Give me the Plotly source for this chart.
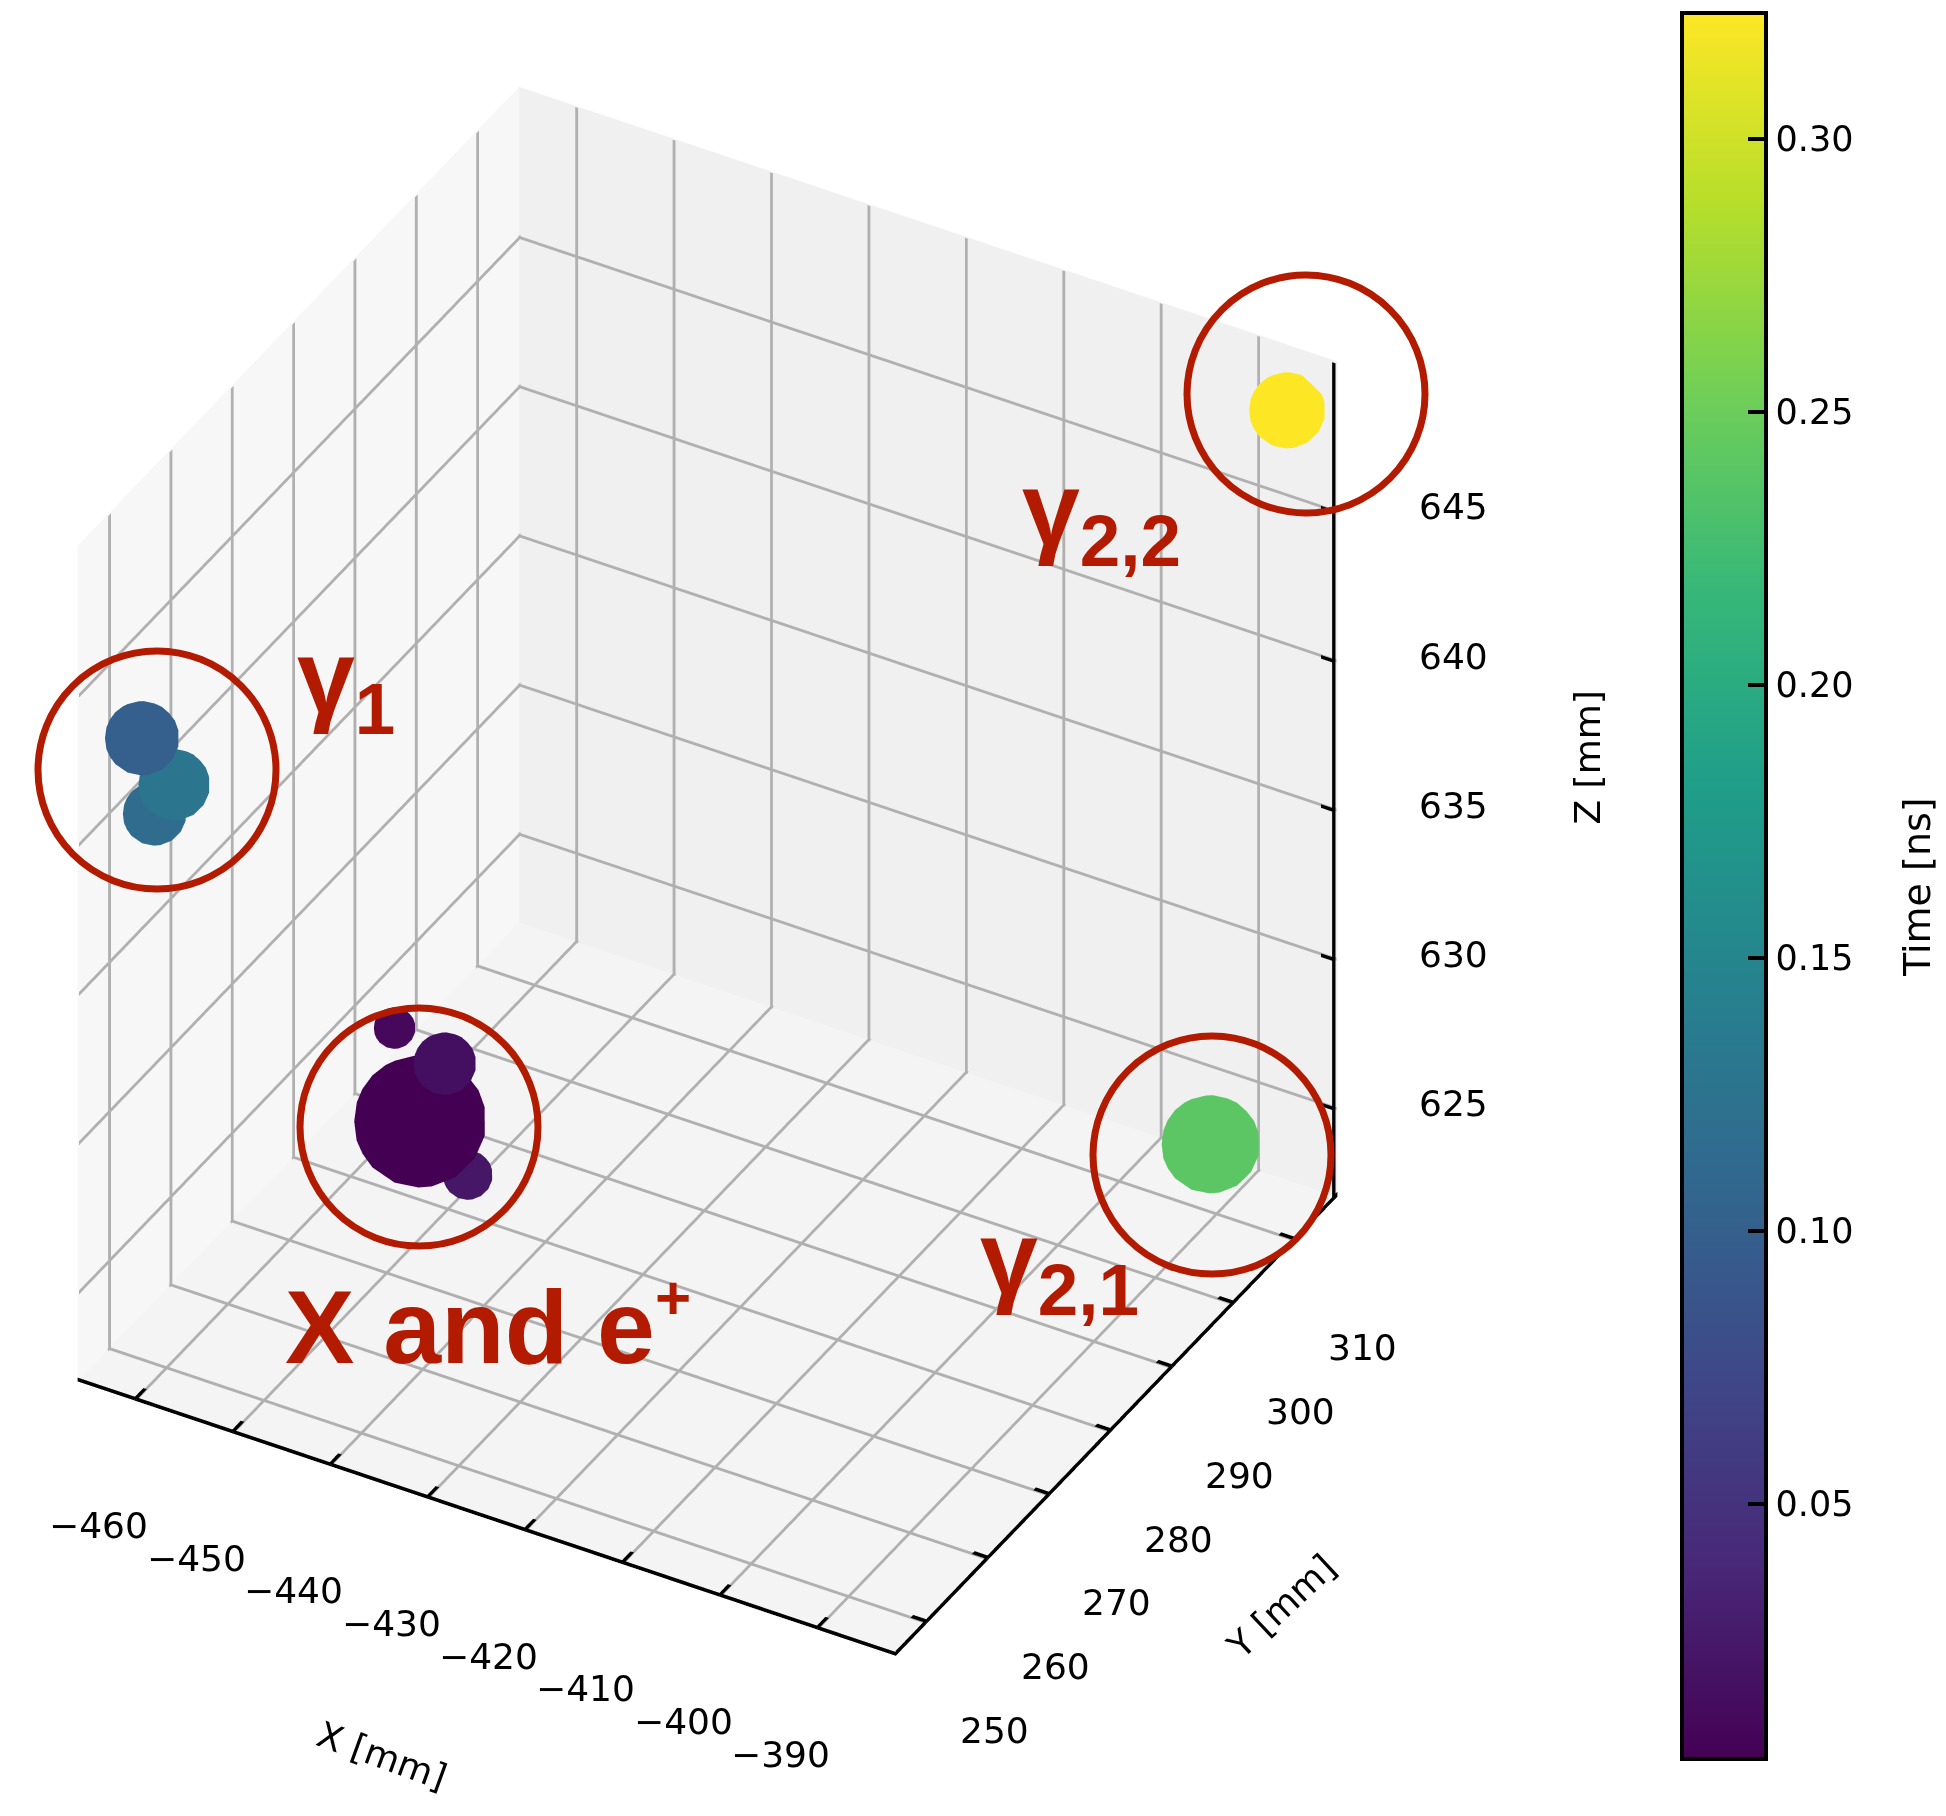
import numpy as np
import plotly.graph_objects as go

# Hit positions [mm], hit times [ns] and deposited energy (arb. units)
hit_x = [-448.0, -448.3, -450.5, -446.0, -443.0, -462.3, -459.0, -461.0, -392.0, -386.0]
hit_y = [272.0, 272.4, 272.0, 273.0, 272.0, 249.5, 249.5, 249.5, 312.0, 315.0]
hit_z = [627.0, 626.9, 629.8, 628.9, 625.7, 643.05, 641.85, 640.65, 623.8, 648.4]
hit_t = [0.0033, 0.008, 0.010, 0.016, 0.022, 0.099, 0.128, 0.115, 0.240, 0.323]
hit_e = [177.0, 121.0, 17.6, 39.7, 25.0, 56.0, 52.0, 41.0, 98.0, 59.0]

x_ticks = [-460, -450, -440, -430, -420, -410, -400, -390]
y_ticks = [250, 260, 270, 280, 290, 300, 310]
z_ticks = [625, 630, 635, 640, 645]
t_ticks = [0.05, 0.10, 0.15, 0.20, 0.25, 0.30]

X0, X1 = -466.0, -382.0
Y0, Y1 = 245.0, 317.0
Z0, Z1 = 622.0, 650.0

W, H = 1946, 1816
RED = "#b31b00"
GRID = "#b0b0b0"
LBL = dict(family="DejaVu Sans", size=36, color="black")

# small inward offsets keep strokes from fighting with the pane fills
ex, ey, ez = 0.15, 0.15, 0.05


class Strokes:
    """Thin flat quads used as thick lines inside the 3D box."""

    def __init__(self):
        self.v, self.f = [], []

    def add(self, a, b, w, centred=True):
        a, b, w = np.asarray(a, float), np.asarray(b, float), np.asarray(w, float)
        if centred:
            a, b = a - w / 2, b - w / 2
        n = len(self.v)
        self.v += [a, b, b + w, a + w]
        self.f += [(n, n + 1, n + 2), (n, n + 2, n + 3)]

    def trace(self, color):
        v = np.array(self.v)
        f = np.array(self.f)
        return go.Mesh3d(x=v[:, 0], y=v[:, 1], z=v[:, 2],
                         i=f[:, 0], j=f[:, 1], k=f[:, 2],
                         color=color, flatshading=True, opacity=1,
                         lighting=dict(ambient=1.0, diffuse=0.0, specular=0.0,
                                       roughness=1.0, fresnel=0.0),
                         hoverinfo="skip", showscale=False)


# grid on the three back panes: floor (z=Z0), back wall (y=Y1), side wall (x=X0)
grid = Strokes()
for xv in x_ticks:
    grid.add((xv, Y0, Z0 + ez), (xv, Y1, Z0 + ez), (0.30, 0, 0))
    grid.add((xv, Y1 - ey, Z0), (xv, Y1 - ey, Z1), (0.29, 0, 0))
for yv in y_ticks:
    grid.add((X0, yv, Z0 + ez), (X1, yv, Z0 + ez), (0, 0.36, 0))
    grid.add((X0 + ex, yv, Z0), (X0 + ex, yv, Z1), (0, 0.46, 0))
for zv in z_ticks:
    grid.add((X0, Y1 - ey, zv), (X1, Y1 - ey, zv), (0, 0, 0.10))
    grid.add((X0 + ex, Y0, zv), (X0 + ex, Y1, zv), (0, 0, 0.135))

# axis spines and inward tick marks
spine = Strokes()
spine.add((X0, Y0 + 0.02, Z0), (X1, Y0 + 0.02, Z0), (0, 0, 0.13), centred=False)
spine.add((X1 - 0.02, Y0, Z0), (X1 - 0.02, Y1, Z0), (0, 0, 0.17), centred=False)
spine.add((X1, Y1 - 2 * ey, Z0), (X1, Y1 - 2 * ey, Z1), (-0.36, 0, 0), centred=False)
for xv in x_ticks:
    spine.add((xv, Y0, Z0 + 2 * ez), (xv, Y0 + 1.5, Z0 + 2 * ez), (0.36, 0, 0))
for yv in y_ticks:
    spine.add((X1 - 1.5, yv, Z0 + 2 * ez), (X1, yv, Z0 + 2 * ez), (0, 0.44, 0))
for zv in z_ticks:
    spine.add((X1 - 1.5, Y1 - 2 * ey, zv), (X1, Y1 - 2 * ey, zv), (0, 0, 0.12))

fig = go.Figure()
fig.add_trace(grid.trace(GRID))
fig.add_trace(spine.trace("black"))

fig.add_trace(go.Scatter3d(
    x=hit_x, y=hit_y, z=hit_z, mode="markers",
    marker=dict(
        size=[11.5 * np.sqrt(e) for e in hit_e],
        color=hit_t, colorscale="Viridis",
        cmin=min(hit_t), cmax=max(hit_t), opacity=1,
        line=dict(width=0),
        colorbar=dict(
            x=1672 / W, xanchor="left", y=1 - 886 / H, yanchor="middle",
            len=1766 / H, lenmode="fraction", thickness=84,
            outlinewidth=4, outlinecolor="black",
            ticks="inside", ticklen=20, tickwidth=4, tickcolor="black",
            tickvals=t_ticks, tickformat=".2f",
            tickfont=dict(family="DejaVu Sans", size=35, color="black"),
        ),
    ),
    hoverinfo="skip", showlegend=False,
))


def axis(rng, bg):
    return dict(
        title=dict(text=""), range=rng, autorange=False,
        showbackground=True, backgroundcolor=bg,
        showgrid=False, showline=False, zeroline=False,
        ticks="", showticklabels=False, showspikes=False,
    )


# tick labels and axis titles, anchored at data positions on the spines
xa, ya = X1 - 0.01, Y1 - 0.01
scene_ann = []
for xv in x_ticks:
    scene_ann.append(dict(x=xv, y=Y0, z=Z0, text=f"\u2212{abs(xv)}", xshift=-37, yshift=-124))
for yv in y_ticks:
    scene_ann.append(dict(x=xa, y=yv, z=Z0, text=str(yv), xshift=68, yshift=-106))
for zv in z_ticks:
    scene_ann.append(dict(x=xa, y=ya, z=zv, text=str(zv), xshift=116, yshift=4))
scene_ann.append(dict(x=(X0 + X1) / 2, y=Y0, z=Z0, text="X [mm]", xshift=-105, yshift=-236, textangle=20))
scene_ann.append(dict(x=xa, y=(Y0 + Y1) / 2, z=Z0, text="Y [mm]", xshift=165, yshift=-180, textangle=-43))
scene_ann.append(dict(x=xa, y=ya, z=(Z0 + Z1) / 2, text="Z [mm]", xshift=250, yshift=22, textangle=-90))
for a in scene_ann:
    a.update(showarrow=False, font=LBL, xanchor="center", yanchor="middle")

D = 1.9
el, az = np.radians(36.2), np.radians(-60.4)
k = 1.08
fig.update_layout(
    width=W, height=H,
    margin=dict(l=0, r=0, t=0, b=0),
    paper_bgcolor="white",
    scene=dict(
        domain=dict(x=[0, 0.727], y=[0.04, 1]),
        xaxis=axis([X0, X1], "#f7f7f7"),
        yaxis=axis([Y0, Y1], "#f0f0f0"),
        zaxis=axis([Z0, Z1], "#f4f4f4"),
        aspectmode="manual", aspectratio=dict(x=k, y=0.95 * k, z=1.10 * k),
        camera=dict(eye=dict(x=D * np.cos(el) * np.cos(az),
                             y=D * np.cos(el) * np.sin(az),
                             z=D * np.sin(el)),
                    up=dict(x=0, y=0, z=1), center=dict(x=0, y=0, z=0),
                    projection=dict(type="orthographic")),
        annotations=scene_ann,
    ),
)

# Colour bar label
fig.add_annotation(text="Time [ns]", xref="paper", yref="paper",
                   x=1917 / W, y=1 - 887 / H, textangle=-90, showarrow=False,
                   xanchor="center", yanchor="middle",
                   font=dict(family="DejaVu Sans", size=38, color="black"))

# Red rings around the hit clusters (pixel centres, radius in px)
rings = [(157, 770), (419, 1127), (1306, 394), (1212, 1155)]
R = 119
for cx, cy in rings:
    fig.add_shape(type="circle", xref="paper", yref="paper",
                  x0=(cx - R) / W, x1=(cx + R) / W,
                  y0=1 - (cy + R) / H, y1=1 - (cy - R) / H,
                  line=dict(color=RED, width=7))

labels = [
    ("γ<sub>1</sub>", 295, 684),
    ("γ<sub>2,2</sub>", 1020, 515),
    ("γ<sub>2,1</sub>", 978, 1264),
    ("X and e<sup><span style='font-size:62px'>+</span></sup>", 283, 1324),
]
for txt, px, py in labels:
    fig.add_annotation(text=txt, xref="paper", yref="paper",
                       x=px / W, y=1 - py / H, xanchor="left", yanchor="middle",
                       showarrow=False,
                       font=dict(family="Liberation Sans", size=104, color=RED, weight="bold"))

fig.write_html("out.html")
